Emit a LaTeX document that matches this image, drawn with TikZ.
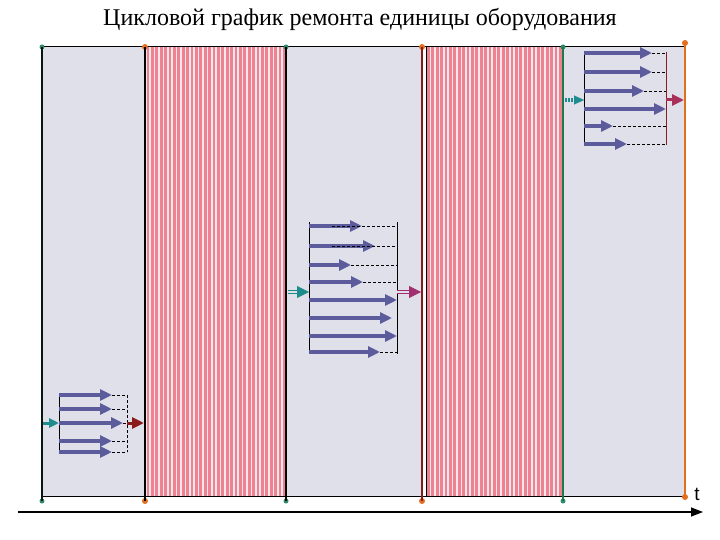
\documentclass[tikz,border=0pt]{standalone}
\usepackage{fontspec}
\setmainfont{Liberation Serif}
\setsansfont{Liberation Sans}
\usetikzlibrary{arrows.meta}
\definecolor{bg}{HTML}{E0E0EA}
\definecolor{arr}{HTML}{5C5C9C}
\definecolor{tealin}{HTML}{1E8C8C}
\definecolor{gdot}{HTML}{2E8B6E}
\definecolor{odot}{HTML}{E07020}
\definecolor{stripe}{HTML}{EE8290}
\definecolor{stripebg}{HTML}{F6E6EC}
\definecolor{outa}{HTML}{8B1A1A}
\definecolor{outb}{HTML}{A03070}
\definecolor{outc}{HTML}{A8305A}
\definecolor{gline}{HTML}{1F7A4A}
\tikzset{
  work/.style={arr, line width=4pt, -{Triangle[length=12pt,width=11pt]}},
  lead/.style={dashed, dash pattern=on 3pt off 2pt, line width=0.8pt, black},
  bar/.style={line width=0.9pt, black},
  gdotst/.style={circle, fill=gdot, inner sep=0pt, minimum size=5pt},
  odotst/.style={circle, fill=odot, inner sep=0pt, minimum size=6pt},
  inarrow/.style={tealin, line width=3pt, -{Triangle[length=10pt,width=9pt]}},
  outarrow/.style={line width=3pt, -{Triangle[length=12pt,width=11pt]}},
  dbl/.style={double=bg, double distance=2.2pt, line width=0.8pt, -{Triangle[length=12pt,width=12pt]}}
}
\begin{document}
\begin{tikzpicture}[x=1pt,y=-1pt]
\useasboundingbox (0,0) rectangle (720,540);
\node[font=\fontsize{24}{26}\selectfont] (title) at (360,20) {Цикловой график ремонта единицы оборудования};
% field
\fill[bg] (42,47) rectangle (685,496);
% striped bands
\fill[stripebg] (145,47) rectangle (286,496);
\foreach \i in {0,...,31} \fill[stripe] ({146.5+\i*4.4},47) rectangle ({146.5+\i*4.4+2.8},496);
\fill[white] (423,47) rectangle (426,496);
\fill[stripebg] (426,47) rectangle (562,496);
\foreach \i in {0,...,30} \fill[stripe] ({427+\i*4.4},47) rectangle ({427+\i*4.4+2.8},496);
\draw[line width=1pt] (42,47) rectangle (685,496);
% vertical boundaries
\node[gdotst] (g1t) at (42,47) {}; \node[gdotst] (g1b) at (42,501) {};
\node[odotst] (o1t) at (145,47) {}; \node[odotst] (o1b) at (145,501) {};
\node[gdotst] (g2t) at (286,47) {}; \node[gdotst] (g2b) at (286,501) {};
\node[odotst] (o2t) at (422,47) {}; \node[odotst] (o2b) at (422,501) {};
\node[gdotst] (g3t) at (563,47) {}; \node[gdotst] (g3b) at (563,501) {};
\node[odotst] (o3t) at (685,43) {}; \node[odotst] (o3b) at (685,497) {};
\draw[line width=1.3pt, black!80!gline] (g1t.center) -- (g1b.center);
\draw[line width=1.3pt, black] (o1t.center) -- (o1b.center);
\draw[line width=1.2pt, black] (g2t.center) -- (g2b.center);
\draw[line width=1.2pt, outa] (o2t.center) -- (o2b.center);
\draw[line width=1pt, black] (426,47) -- (426,496);
\draw[line width=2.8pt, gline] (g3t.center) -- (g3b.center);
\draw[line width=2.8pt, odot] (o3t.center) -- (o3b.center);
% ---------- group 1 ----------
\coordinate (a1t) at (59,393); \coordinate (a1b) at (59,454);
\coordinate (r1t) at (127,395); \coordinate (r1b) at (127,452);
\draw[bar] (a1t) -- (a1b);
\foreach \y/\t in {395/112,409/112,423/123,441/112,452/112}{
  \draw[lead] (\t,\y) -- (127,\y);
  \draw[work] (59,\y) -- (\t,\y);
}
\draw[lead] (r1t) -- (r1b);
\coordinate (i1s) at (43,423); \coordinate (i1e) at (59,423);
\draw[inarrow] (i1s) -- (i1e);
\coordinate (x1s) at (127,423); \coordinate (x1e) at (144,423);
\draw[outarrow, outa] (x1s) -- (x1e);
% ---------- group 2 ----------
\coordinate (a2t) at (309,222); \coordinate (a2b) at (309,354);
\draw[bar] (a2t) -- (a2b);
\draw[line width=0.9pt, black] (397,222) -- (397,354);
\foreach \y/\t in {226/362,246/375,265/351,282/363,300/397,318/392,336/397,352/380}{
  \draw[work] (309,\y) -- (\t,\y);
}
\foreach \y/\s in {226/332,246/332,265/351,282/363,352/380}{
  \draw[lead] (\s,\y) -- (397,\y);
}
\coordinate (i2s) at (288,292); \coordinate (i2e) at (309,292);
\draw[dbl, tealin] (i2s) -- (i2e);
\coordinate (x2s) at (397,292); \coordinate (x2e) at (421,292);
\draw[dbl, outb] (x2s) -- (x2e);
% ---------- group 3 ----------
\coordinate (a3t) at (584,52); \coordinate (a3b) at (584,145);
\draw[bar] (a3t) -- (a3b);
\draw[line width=0.9pt, outa] (666,52) -- (666,145);
\foreach \y/\t in {53/652,72/652,91/644,109/666,126/613,144/627}{
  \draw[lead] (\t,\y) -- (666,\y);
  \draw[work] (584,\y) -- (\t,\y);
}
\coordinate (i3s) at (565,100); \coordinate (i3e) at (584,100);
\draw[tealin, line width=3.5pt, dash pattern=on 2pt off 1pt] (i3s) -- (578,100);
\draw[inarrow, line width=0.1pt] (576,100) -- (i3e);
\coordinate (x3s) at (666,100); \coordinate (x3e) at (684,100);
\draw[outarrow, outc] (x3s) -- (x3e);
% ---------- time axis ----------
\coordinate (ax0) at (18,512); \coordinate (ax1) at (703,512);
\draw[line width=1.6pt, -{Triangle[length=12pt,width=9pt]}] (ax0) -- (ax1);
\node[font=\sffamily\fontsize{19}{20}\selectfont, inner sep=0pt] (tl) at (697,494) {t};
\end{tikzpicture}
\end{document}
